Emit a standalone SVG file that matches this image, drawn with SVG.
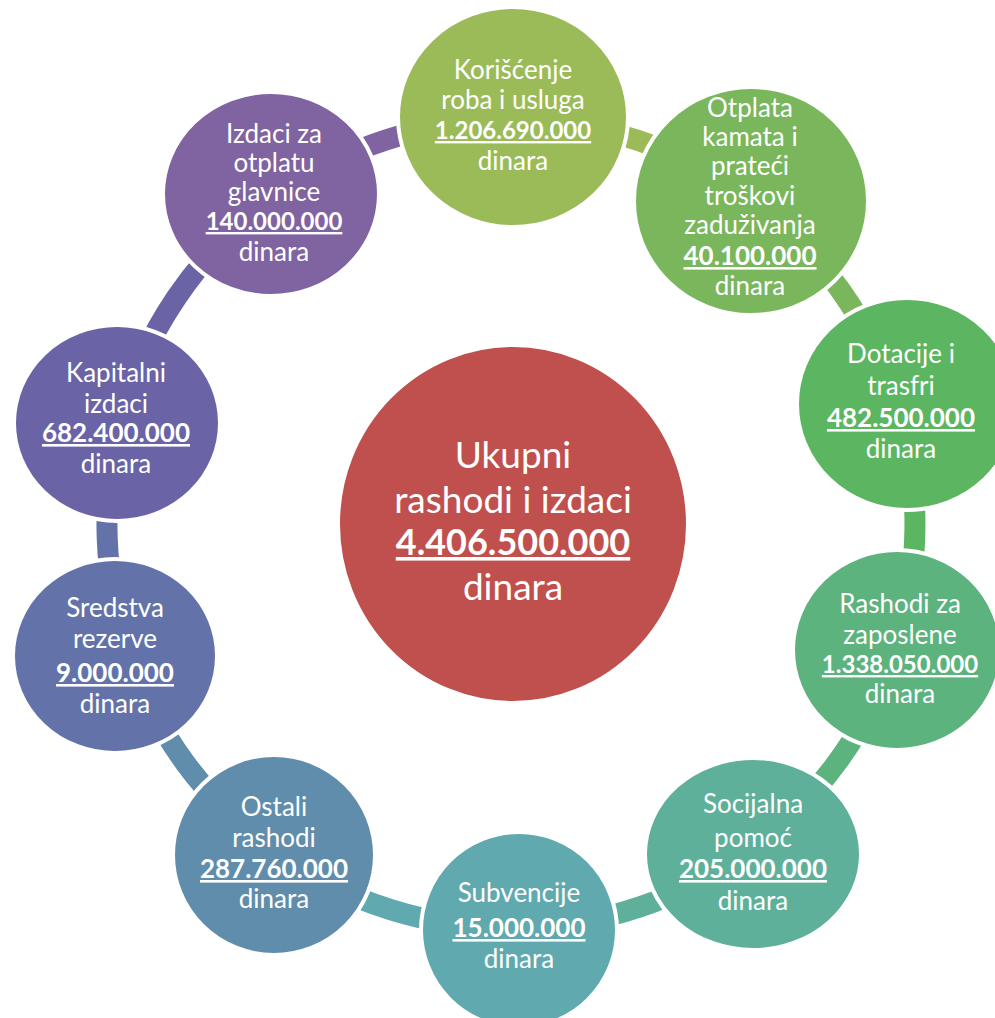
<svg xmlns="http://www.w3.org/2000/svg" width="995" height="1018" viewBox="0 0 995 1018">
<style>
.n{stroke:#fff;stroke-width:4}
.t{font-family:Lato,"Liberation Sans",sans-serif;font-size:26px;fill:#fff;text-anchor:middle}
.b{font-weight:bold;font-size:26px;text-decoration:underline}
.s{font-size:24px}
.ct{font-size:37px}
.cb{font-weight:bold;font-size:36px;text-decoration:underline}
.c{fill:none;stroke-width:21}
</style>
<rect width="995" height="1018" fill="#fff"/>
<g id="connectors">
<path class="c" stroke="#9BBB59" d="M511,120 A404,404 0 0 1 751.3,199.2"/>
<path class="c" stroke="#7AB65C" d="M751.3,199.2 A404,404 0 0 1 897.5,406.6"/>
<path class="c" stroke="#5CB560" d="M897.5,406.6 A404,404 0 0 1 895,649.5"/>
<path class="c" stroke="#5CB37D" d="M895,649.5 A404,404 0 0 1 749,850.4"/>
<path class="c" stroke="#5EB09A" d="M749,850.4 A404,404 0 0 1 518.1,927.9"/>
<path class="c" stroke="#5FA9AF" d="M518.1,927.9 A404,404 0 0 1 275.3,852.1"/>
<path class="c" stroke="#5F8DAB" d="M275.3,852.1 A404,404 0 0 1 127.6,651.5"/>
<path class="c" stroke="#6373A9" d="M127.6,651.5 A404,404 0 0 1 119.5,424.2"/>
<path class="c" stroke="#6A63A6" d="M119.5,424.2 A404,404 0 0 1 273,197.6"/>
<path class="c" stroke="#8063A1" d="M273,197.6 A404,404 0 0 1 511,120"/>
</g>
<g id="center">
<ellipse class="n" cx="513" cy="524" rx="175" ry="179" fill="#C0504D"/>
<text class="t ct" x="513" y="468">Ukupni</text>
<text class="t ct" x="513" y="513">rashodi i izdaci</text>
<text class="t cb" x="513" y="555">4.406.500.000</text>
<text class="t ct" x="513" y="600">dinara</text>
</g>
<g id="n1">
<ellipse class="n" cx="513" cy="117" rx="115" ry="110" fill="#9BBB59"/>
<text class="t" x="513" y="79">Korišćenje</text>
<text class="t" x="513" y="109">roba i usluga</text>
<text class="t b s" x="513" y="139">1.206.690.000</text>
<text class="t" x="513" y="170">dinara</text>
</g>
<g id="n2">
<ellipse class="n" cx="751" cy="201" rx="117" ry="114" fill="#7AB65C"/>
<text class="t" x="750" y="117">Otplata</text>
<text class="t" x="750" y="146">kamata i</text>
<text class="t" x="750" y="175">prateći</text>
<text class="t" x="750" y="205">troškovi</text>
<text class="t" x="750" y="234">zaduživanja</text>
<text class="t b" x="750" y="265">40.100.000</text>
<text class="t" x="750" y="295">dinara</text>
</g>
<g id="n3">
<ellipse class="n" cx="907" cy="404" rx="110" ry="106" fill="#5CB560"/>
<text class="t" x="901" y="363">Dotacije i</text>
<text class="t" x="901" y="395">trasfri</text>
<text class="t b" x="901" y="427">482.500.000</text>
<text class="t" x="901" y="458">dinara</text>
</g>
<g id="n4">
<ellipse class="n" cx="897" cy="650" rx="104" ry="100" fill="#5CB37D"/>
<text class="t" x="900" y="613">Rashodi za</text>
<text class="t" x="900" y="644">zaposlene</text>
<text class="t b s" x="900" y="673">1.338.050.000</text>
<text class="t" x="900" y="703">dinara</text>
</g>
<g id="n5">
<ellipse class="n" cx="753" cy="854" rx="108" ry="96" fill="#5EB09A"/>
<text class="t" x="753" y="813">Socijalna</text>
<text class="t" x="753" y="847">pomoć</text>
<text class="t b" x="753" y="878">205.000.000</text>
<text class="t" x="753" y="910">dinara</text>
</g>
<g id="n6">
<ellipse class="n" cx="519" cy="930" rx="98" ry="98" fill="#5FA9AF"/>
<text class="t" x="519" y="902">Subvencije</text>
<text class="t b" x="519" y="937">15.000.000</text>
<text class="t" x="519" y="968">dinara</text>
</g>
<g id="n7">
<ellipse class="n" cx="274" cy="855" rx="101" ry="100" fill="#5F8DAB"/>
<text class="t" x="274" y="816">Ostali</text>
<text class="t" x="274" y="847">rashodi</text>
<text class="t b" x="274" y="878">287.760.000</text>
<text class="t" x="274" y="908">dinara</text>
</g>
<g id="n8">
<ellipse class="n" cx="115" cy="656" rx="102" ry="97" fill="#6373A9"/>
<text class="t" x="115" y="617">Sredstva</text>
<text class="t" x="115" y="648">rezerve</text>
<text class="t b" x="115" y="682">9.000.000</text>
<text class="t" x="115" y="713">dinara</text>
</g>
<g id="n9">
<ellipse class="n" cx="117" cy="423" rx="103" ry="98" fill="#6A63A6"/>
<text class="t" x="116" y="382">Kapitalni</text>
<text class="t" x="116" y="413">izdaci</text>
<text class="t b" x="116" y="442">682.400.000</text>
<text class="t" x="116" y="473">dinara</text>
</g>
<g id="n10">
<ellipse class="n" cx="271" cy="194" rx="108" ry="102" fill="#8063A1"/>
<text class="t" x="274" y="143">Izdaci za</text>
<text class="t" x="274" y="172">otplatu</text>
<text class="t" x="274" y="201">glavnice</text>
<text class="t b s" x="274" y="230">140.000.000</text>
<text class="t" x="274" y="261">dinara</text>
</g>
</svg>
